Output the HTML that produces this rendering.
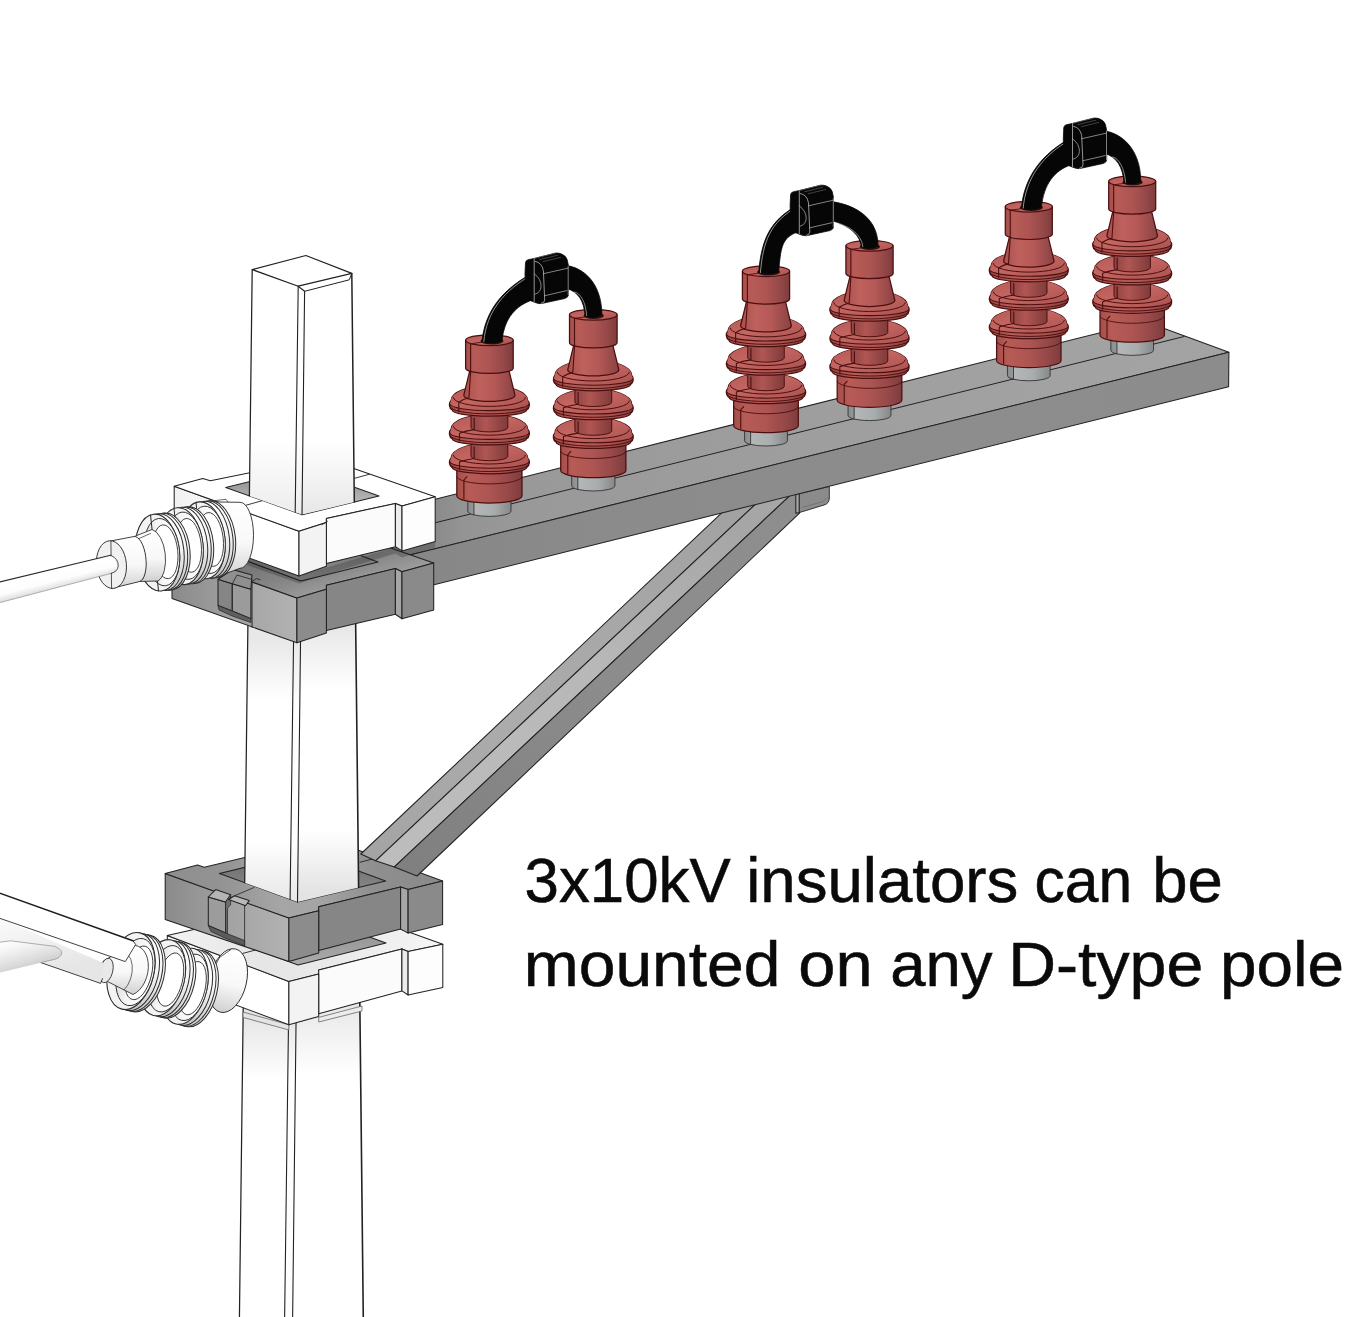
<!DOCTYPE html>
<html><head><meta charset="utf-8"><title>3x10kV insulators</title>
<style>
html,body{margin:0;padding:0;background:#fff;}
body{width:1370px;height:1317px;overflow:hidden;}
svg{display:block;}
text{font-family:"Liberation Sans",sans-serif;font-size:63.5px;fill:#0a0a0a;stroke:#0a0a0a;stroke-width:0.55px;}
</style></head><body>
<svg width="1370" height="1317" viewBox="0 0 1370 1317">
<defs>
<linearGradient id="redB" gradientUnits="objectBoundingBox" x1="0" y1="0" x2="1" y2="0"><stop offset="0" stop-color="#a54e4a"/><stop offset="0.18" stop-color="#b75b56"/><stop offset="0.5" stop-color="#ad5553"/><stop offset="0.8" stop-color="#954848"/><stop offset="1" stop-color="#7e3c3c"/></linearGradient>
<linearGradient id="redCone" gradientUnits="objectBoundingBox" x1="0" y1="0" x2="1" y2="0"><stop offset="0" stop-color="#a8504c"/><stop offset="0.3" stop-color="#bf615d"/><stop offset="0.6" stop-color="#b55957"/><stop offset="1" stop-color="#884242"/></linearGradient>
<linearGradient id="redC" gradientUnits="objectBoundingBox" x1="0" y1="0" x2="1" y2="0"><stop offset="0" stop-color="#8e4341"/><stop offset="0.4" stop-color="#b05653"/><stop offset="1" stop-color="#7f3b3a"/></linearGradient>
<linearGradient id="redRim" gradientUnits="objectBoundingBox" x1="0" y1="0" x2="1" y2="0"><stop offset="0" stop-color="#9c4744"/><stop offset="0.3" stop-color="#b95c58"/><stop offset="0.7" stop-color="#aa5250"/><stop offset="1" stop-color="#823e3d"/></linearGradient>
<linearGradient id="redTop" gradientUnits="objectBoundingBox" x1="0" y1="0" x2="1" y2="1"><stop offset="0" stop-color="#b55955"/><stop offset="0.45" stop-color="#c46662"/><stop offset="1" stop-color="#a9514f"/></linearGradient>
<linearGradient id="stubG" gradientUnits="objectBoundingBox" x1="0" y1="0" x2="1" y2="0"><stop offset="0" stop-color="#8a8d8d"/><stop offset="0.13" stop-color="#959898"/><stop offset="0.16" stop-color="#b4b7b7"/><stop offset="0.6" stop-color="#aaadad"/><stop offset="1" stop-color="#868989"/></linearGradient>
<linearGradient id="pL" gradientUnits="objectBoundingBox" x1="0" y1="0" x2="1" y2="0"><stop offset="0" stop-color="#ffffff"/><stop offset="1" stop-color="#ffffff"/></linearGradient>
<linearGradient id="pR" gradientUnits="objectBoundingBox" x1="0" y1="0" x2="1" y2="0"><stop offset="0" stop-color="#ffffff"/><stop offset="1" stop-color="#ffffff"/></linearGradient>
<linearGradient id="wFL" gradientUnits="objectBoundingBox" x1="0" y1="0" x2="1" y2="0"><stop offset="0" stop-color="#f1f1f1"/><stop offset="0.6" stop-color="#ffffff"/><stop offset="1" stop-color="#ffffff"/></linearGradient>
<linearGradient id="gFL" gradientUnits="objectBoundingBox" x1="0" y1="0" x2="1" y2="0"><stop offset="0" stop-color="#8a8a8a"/><stop offset="0.5" stop-color="#a2a2a2"/><stop offset="1" stop-color="#b2b2b2"/></linearGradient>
<linearGradient id="gTop" gradientUnits="objectBoundingBox" x1="0" y1="0" x2="1" y2="0"><stop offset="0" stop-color="#8e8e8e"/><stop offset="0.2" stop-color="#939393"/><stop offset="0.42" stop-color="#a6a6a6"/><stop offset="0.56" stop-color="#a4a4a4"/><stop offset="0.75" stop-color="#8f8f8f"/><stop offset="1" stop-color="#8a8a8a"/></linearGradient>
<linearGradient id="lwTop" gradientUnits="objectBoundingBox" x1="0" y1="0" x2="1" y2="0"><stop offset="0" stop-color="#f2f2f2"/><stop offset="0.35" stop-color="#e6e6e6"/><stop offset="0.6" stop-color="#e9e9e9"/><stop offset="1" stop-color="#f6f6f6"/></linearGradient>
<linearGradient id="wRim" gradientUnits="objectBoundingBox" x1="0" y1="0" x2="0" y2="1"><stop offset="0" stop-color="#ffffff"/><stop offset="0.45" stop-color="#f6f6f6"/><stop offset="0.75" stop-color="#dcdcdc"/><stop offset="1" stop-color="#c2c2c2"/></linearGradient>
<linearGradient id="wBody" gradientUnits="objectBoundingBox" x1="0" y1="0" x2="0" y2="1"><stop offset="0" stop-color="#ffffff"/><stop offset="0.55" stop-color="#f8f8f8"/><stop offset="0.85" stop-color="#dedede"/><stop offset="1" stop-color="#cfcfcf"/></linearGradient>
<linearGradient id="wDish" gradientUnits="objectBoundingBox" x1="0" y1="0" x2="1" y2="0"><stop offset="0" stop-color="#dadada"/><stop offset="0.45" stop-color="#f6f6f6"/><stop offset="1" stop-color="#ffffff"/></linearGradient>
<linearGradient id="sh1" gradientUnits="userSpaceOnUse" x1="0" y1="1015" x2="0" y2="1080"><stop offset="0" stop-color="#000" stop-opacity="0.1"/><stop offset="1" stop-color="#000" stop-opacity="0"/></linearGradient>
<linearGradient id="sh2" gradientUnits="userSpaceOnUse" x1="0" y1="1005" x2="0" y2="1075"><stop offset="0" stop-color="#000" stop-opacity="0.09"/><stop offset="1" stop-color="#000" stop-opacity="0"/></linearGradient>
<linearGradient id="hole17" gradientUnits="userSpaceOnUse" x1="0" y1="921" x2="0" y2="961"><stop offset="0" stop-color="#8c8c8c"/><stop offset="1" stop-color="#a9a9a9"/></linearGradient>
<linearGradient id="hole18" gradientUnits="userSpaceOnUse" x1="0" y1="858.3" x2="0" y2="898"><stop offset="0" stop-color="#6c6c6c"/><stop offset="1" stop-color="#8e8e8e"/></linearGradient>
<linearGradient id="sh3" gradientUnits="userSpaceOnUse" x1="0" y1="640" x2="0" y2="700"><stop offset="0" stop-color="#000" stop-opacity="0.09"/><stop offset="1" stop-color="#000" stop-opacity="0"/></linearGradient>
<linearGradient id="sh4" gradientUnits="userSpaceOnUse" x1="0" y1="628" x2="0" y2="690"><stop offset="0" stop-color="#000" stop-opacity="0.09"/><stop offset="1" stop-color="#000" stop-opacity="0"/></linearGradient>
<linearGradient id="sh5" gradientUnits="userSpaceOnUse" x1="0" y1="840" x2="0" y2="900"><stop offset="0" stop-color="#000" stop-opacity="0"/><stop offset="1" stop-color="#000" stop-opacity="0.09"/></linearGradient>
<linearGradient id="sh6" gradientUnits="userSpaceOnUse" x1="0" y1="830" x2="0" y2="892"><stop offset="0" stop-color="#000" stop-opacity="0"/><stop offset="1" stop-color="#000" stop-opacity="0.11"/></linearGradient>
<linearGradient id="brL" gradientUnits="userSpaceOnUse" x1="365" y1="850" x2="720" y2="515"><stop offset="0" stop-color="#a4a4a4"/><stop offset="0.4" stop-color="#acacac"/><stop offset="1" stop-color="#a2a2a2"/></linearGradient>
<linearGradient id="brR" gradientUnits="userSpaceOnUse" x1="365" y1="850" x2="720" y2="515"><stop offset="0" stop-color="#bdbdbd"/><stop offset="0.6" stop-color="#b8b8b8"/><stop offset="1" stop-color="#a6a6a6"/></linearGradient>
<linearGradient id="brF" gradientUnits="userSpaceOnUse" x1="420" y1="870" x2="800" y2="513"><stop offset="0" stop-color="#808080"/><stop offset="0.5" stop-color="#8c8c8c"/><stop offset="1" stop-color="#8e8e8e"/></linearGradient>
<linearGradient id="beamTop" gradientUnits="userSpaceOnUse" x1="345" y1="0" x2="1230" y2="0"><stop offset="0" stop-color="#858585"/><stop offset="0.1" stop-color="#8a8a8a"/><stop offset="0.13" stop-color="#939393"/><stop offset="0.2" stop-color="#999999"/><stop offset="0.45" stop-color="#9d9d9d"/><stop offset="0.8" stop-color="#a2a2a2"/><stop offset="1" stop-color="#a3a3a3"/></linearGradient>
<linearGradient id="beamFront" gradientUnits="userSpaceOnUse" x1="345" y1="0" x2="1230" y2="0"><stop offset="0" stop-color="#838383"/><stop offset="0.1" stop-color="#878787"/><stop offset="0.3" stop-color="#8b8b8b"/><stop offset="0.7" stop-color="#8d8d8d"/><stop offset="1" stop-color="#8c8c8c"/></linearGradient>
<linearGradient id="ugTop" gradientUnits="userSpaceOnUse" x1="300" y1="556" x2="312" y2="600"><stop offset="0" stop-color="#787878"/><stop offset="0.5" stop-color="#888888"/><stop offset="1" stop-color="#a0a0a0"/></linearGradient>
<linearGradient id="hole29" gradientUnits="userSpaceOnUse" x1="0" y1="540" x2="0" y2="577"><stop offset="0" stop-color="#6c6c6c"/><stop offset="1" stop-color="#8e8e8e"/></linearGradient>
<linearGradient id="hole30" gradientUnits="userSpaceOnUse" x1="0" y1="474.79999999999995" x2="0" y2="510.70000000000005"><stop offset="0" stop-color="#8b8b8b"/><stop offset="1" stop-color="#c6c6c6"/></linearGradient>
<linearGradient id="sh7" gradientUnits="userSpaceOnUse" x1="0" y1="440" x2="0" y2="512"><stop offset="0" stop-color="#000" stop-opacity="0"/><stop offset="1" stop-color="#000" stop-opacity="0.07"/></linearGradient>
<linearGradient id="sh8" gradientUnits="userSpaceOnUse" x1="0" y1="440" x2="0" y2="512"><stop offset="0" stop-color="#000" stop-opacity="0"/><stop offset="1" stop-color="#000" stop-opacity="0.09"/></linearGradient>
<linearGradient id="wire1" gradientUnits="userSpaceOnUse" x1="0" y1="583" x2="5" y2="603"><stop offset="0" stop-color="#ffffff"/><stop offset="0.55" stop-color="#fdfdfd"/><stop offset="0.85" stop-color="#e3e3e3"/><stop offset="1" stop-color="#d0d0d0"/></linearGradient>
<linearGradient id="wire4" gradientUnits="userSpaceOnUse" x1="0" y1="920" x2="14" y2="980"><stop offset="0" stop-color="#fafafa"/><stop offset="0.5" stop-color="#f0f0f0"/><stop offset="1" stop-color="#e6e6e6"/></linearGradient>
<linearGradient id="wire2" gradientUnits="userSpaceOnUse" x1="0" y1="940" x2="10" y2="975"><stop offset="0" stop-color="#ffffff"/><stop offset="0.3" stop-color="#f6f6f6"/><stop offset="0.75" stop-color="#dcdcdc"/><stop offset="1" stop-color="#cacaca"/></linearGradient>
</defs>
<rect width="1370" height="1317" fill="#ffffff"/>
<polygon points="243.3,1000.0 288.8,1000.0 284.6,1320.0 239.4,1320.0" fill="url(#pL)" stroke="none" stroke-width="0" stroke-linejoin="round" />
<polygon points="288.8,1000.0 296.3,1000.0 292.6,1320.0 284.6,1320.0" fill="url(#pL)" stroke="none" stroke-width="0" stroke-linejoin="round" />
<polygon points="296.3,1000.0 359.8,1000.0 363.3,1320.0 292.6,1320.0" fill="url(#pR)" stroke="none" stroke-width="0" stroke-linejoin="round" />
<polyline points="243.3,1000.0 239.4,1320.0" fill="none" stroke="#222222" stroke-width="1.25" stroke-linecap="round" stroke-linejoin="round" />
<polyline points="288.8,1000.0 284.6,1320.0" fill="none" stroke="#222222" stroke-width="1.1" stroke-linecap="round" stroke-linejoin="round" />
<polyline points="296.3,1000.0 292.6,1320.0" fill="none" stroke="#222222" stroke-width="1.1" stroke-linecap="round" stroke-linejoin="round" />
<polyline points="359.8,1000.0 363.3,1320.0" fill="none" stroke="#222222" stroke-width="1.6" stroke-linecap="round" stroke-linejoin="round" />
<polygon points="243.3,1000.0 288.8,1000.0 284.6,1320.0 239.4,1320.0" fill="url(#sh1)"/>
<polygon points="288.8,1000.0 296.3,1000.0 292.6,1320.0 284.6,1320.0" fill="url(#sh1)"/>
<polygon points="296.3,1000.0 359.8,1000.0 363.3,1320.0 292.6,1320.0" fill="url(#sh2)"/>
<polygon points="243.0,1012.0 288.9,1024.8 288.9,1030.0 243.0,1017.4" fill="#e4e4e4" stroke="#555" stroke-width="0.7" stroke-linejoin="round" />
<polygon points="318.7,1017.4 362.0,1006.0 362.0,1011.0 318.7,1022.0" fill="#ececec" stroke="#555" stroke-width="0.7" stroke-linejoin="round" />
<polygon points="167.3,935.5 288.9,981.4 288.9,1024.8 167.3,979.5" fill="url(#wFL)" stroke="#222222" stroke-width="1.05" stroke-linejoin="round" />
<polygon points="167.3,935.5 196.0,929.0 203.0,930.5 325.0,902.0 442.8,944.2 408.1,951.6 401.9,949.0 318.7,970.0 318.7,974.0 288.9,981.4" fill="url(#lwTop)" stroke="#222222" stroke-width="1.05" stroke-linejoin="round" />
<polygon points="221.0,937.0 309.0,915.0 386.0,943.0 298.0,965.0" fill="url(#hole17)" stroke="#222222" stroke-width="1.05" stroke-linejoin="round" />
<polygon points="318.7,970.0 401.9,949.0 401.9,990.9 318.7,1013.7" fill="#fbfbfb" stroke="#222222" stroke-width="1.05" stroke-linejoin="round" />
<polygon points="288.9,981.4 318.7,974.0 318.7,1016.4 288.9,1024.8" fill="#f3f3f3" stroke="#222222" stroke-width="1.05" stroke-linejoin="round" />
<polygon points="401.9,949.0 408.1,951.6 408.1,995.0 401.9,990.9" fill="#ececec" stroke="#222222" stroke-width="1.05" stroke-linejoin="round" />
<polygon points="408.1,951.6 442.8,944.2 442.8,987.6 408.1,995.0" fill="#fdfdfd" stroke="#222222" stroke-width="1.05" stroke-linejoin="round" />
<polyline points="242.5,953.5 263.0,948.0" fill="none" stroke="#222222" stroke-width="0.9" stroke-linecap="round" stroke-linejoin="round" />
<polygon points="165.2,873.6 288.9,918.1 288.9,961.5 165.2,919.6" fill="url(#gFL)" stroke="#222222" stroke-width="1.05" stroke-linejoin="round" />
<polygon points="165.2,873.6 197.5,864.9 204.3,867.2 325.0,838.0 442.6,880.9 408.1,889.6 400.6,887.1 318.7,906.7 318.7,910.7 288.9,918.1" fill="url(#gTop)" stroke="#222222" stroke-width="1.05" stroke-linejoin="round" />
<polygon points="219.4,873.4 307.5,852.3 385.7,880.9 297.6,902.0" fill="url(#hole18)" stroke="#222222" stroke-width="1.05" stroke-linejoin="round" />
<polygon points="318.7,906.7 400.6,887.1 400.6,929.1 318.7,950.4" fill="#868686" stroke="#222222" stroke-width="1.05" stroke-linejoin="round" />
<polygon points="288.9,918.1 318.7,910.7 318.7,953.1 288.9,961.5" fill="#8c8c8c" stroke="#222222" stroke-width="1.05" stroke-linejoin="round" />
<polygon points="400.6,887.1 408.1,889.6 408.1,933.1 400.6,929.1" fill="#a6a6a6" stroke="#222222" stroke-width="1.05" stroke-linejoin="round" />
<polygon points="408.1,889.6 442.6,880.9 442.6,924.4 408.1,933.1" fill="#8a8a8a" stroke="#222222" stroke-width="1.05" stroke-linejoin="round" />
<polygon points="208.3,897.0 225.6,902.0 225.6,933.0 208.3,925.6" fill="#9c9c9c" stroke="#222222" stroke-width="1.05" stroke-linejoin="round" />
<polygon points="208.3,897.0 215.7,889.6 230.6,894.8 225.6,902.0" fill="#b5b5b5" stroke="#222222" stroke-width="1.05" stroke-linejoin="round" />
<polygon points="225.6,902.0 230.6,894.8 230.6,905.0 227.5,908.0 227.5,934.0 225.6,933.0" fill="#6e6e6e" stroke="#222222" stroke-width="0.7" stroke-linejoin="round" />
<polygon points="228.6,899.5 234.5,895.8 249.2,900.6 245.5,905.7 244.3,905.2" fill="#b9b9b9" stroke="#222222" stroke-width="1.05" stroke-linejoin="round" />
<polyline points="234.5,895.8 254.0,887.5" fill="none" stroke="#222222" stroke-width="0.8" stroke-linecap="round" stroke-linejoin="round" />
<polyline points="244.6,905.5 244.6,945.8" fill="none" stroke="#222222" stroke-width="0.8" stroke-linecap="round" stroke-linejoin="round" />
<polygon points="208.3,925.6 225.6,933.0 244.6,940.5 244.6,945.8 226.0,938.5 211.0,931.5" fill="#5c5c5c" stroke="#222222" stroke-width="0.7" stroke-linejoin="round" />
<polyline points="360.0,862.3 380.5,856.8" fill="none" stroke="#222222" stroke-width="0.9" stroke-linecap="round" stroke-linejoin="round" />
<polygon points="248.2,600.0 294.1,600.0 290.1,899.3 244.7,882.7" fill="url(#pL)" stroke="none" stroke-width="0" stroke-linejoin="round" />
<polygon points="294.1,600.0 301.0,600.0 297.5,902.0 290.1,899.3" fill="url(#pL)" stroke="none" stroke-width="0" stroke-linejoin="round" />
<polygon points="301.0,600.0 355.4,600.0 358.6,887.4 297.5,902.0" fill="url(#pR)" stroke="none" stroke-width="0" stroke-linejoin="round" />
<polyline points="248.2,600.0 244.7,882.7" fill="none" stroke="#222222" stroke-width="1.25" stroke-linecap="round" stroke-linejoin="round" />
<polyline points="294.1,600.0 290.1,899.3" fill="none" stroke="#222222" stroke-width="1.1" stroke-linecap="round" stroke-linejoin="round" />
<polyline points="301.0,600.0 297.5,902.0" fill="none" stroke="#222222" stroke-width="1.1" stroke-linecap="round" stroke-linejoin="round" />
<polyline points="355.4,600.0 358.6,887.4" fill="none" stroke="#222222" stroke-width="1.6" stroke-linecap="round" stroke-linejoin="round" />
<polygon points="248.2,600.0 294.1,600.0 290.1,899.3 244.7,882.7" fill="url(#sh3)"/>
<polygon points="294.1,600.0 301.0,600.0 297.5,902.0 290.1,899.3" fill="url(#sh3)"/>
<polygon points="301.0,600.0 355.4,600.0 358.6,887.4 297.5,902.0" fill="url(#sh4)"/>
<polygon points="248.2,600.0 294.1,600.0 290.1,899.3 244.7,882.7" fill="url(#sh5)"/>
<polygon points="294.1,600.0 301.0,600.0 297.5,902.0 290.1,899.3" fill="url(#sh5)"/>
<polygon points="301.0,600.0 355.4,600.0 358.6,887.4 297.5,902.0" fill="url(#sh6)"/>
<polygon points="360.8,854.0 740.0,495.6 773.4,487.4 375.6,860.8" fill="url(#brL)" stroke="#222222" stroke-width="1.05" stroke-linejoin="round" />
<polygon points="375.6,860.8 773.4,487.4 810.4,476.4 394.4,866.9" fill="url(#brR)" stroke="#222222" stroke-width="1.05" stroke-linejoin="round" />
<polygon points="394.4,866.9 810.4,476.4 799.5,513.2 417.0,876.0" fill="url(#brF)" stroke="#222222" stroke-width="1.05" stroke-linejoin="round" />
<polygon points="795.8,494.6 799.5,493.6 799.5,512.5 795.8,513.2" fill="#a8a8a8" stroke="#222222" stroke-width="1.05" stroke-linejoin="round" />
<path d="M799.5,493.6 L829.3,486.5 L829.3,498 Q829.3,503.5 824,505 L799.5,512.5 Z" fill="#8b8b8b" stroke="#222222" stroke-width="0.9" stroke-linejoin="round" stroke-linecap="round" />
<polyline points="802.0,507.5 823.0,501.5 826.5,498.0" fill="none" stroke="#6a6a6a" stroke-width="0.7" stroke-linecap="round" stroke-linejoin="round" />
<polygon points="345.0,521.8 1145.2,321.4 1228.9,352.3 345.0,571.0" fill="url(#beamTop)" stroke="#222222" stroke-width="1.05" stroke-linejoin="round" />
<polygon points="345.0,571.0 1228.9,352.3 1228.6,386.7 345.0,606.9" fill="url(#beamFront)" stroke="#222222" stroke-width="1.05" stroke-linejoin="round" />
<polyline points="345.0,545.2 1184.2,336.5" fill="none" stroke="#222222" stroke-width="1.0" stroke-linecap="round" stroke-linejoin="round" />
<polygon points="172.0,553.5 296.9,597.9 296.9,642.8 172.0,598.5" fill="url(#gFL)" stroke="#222222" stroke-width="1.05" stroke-linejoin="round" />
<polygon points="172.0,553.5 201.0,546.0 209.0,548.0 322.0,524.0 433.7,562.9 402.0,571.7 395.4,568.6 326.4,585.2 326.4,589.2 296.9,597.9" fill="url(#ugTop)" stroke="#222222" stroke-width="1.05" stroke-linejoin="round" />
<polygon points="225.0,553.0 302.0,534.0 378.0,562.0 301.0,581.0" fill="url(#hole29)" stroke="#222222" stroke-width="1.05" stroke-linejoin="round" />
<polygon points="326.4,585.2 395.4,568.6 395.4,614.2 326.4,630.4" fill="#868686" stroke="#222222" stroke-width="1.05" stroke-linejoin="round" />
<polygon points="296.9,597.9 326.4,589.2 326.4,633.1 296.9,642.8" fill="#8c8c8c" stroke="#222222" stroke-width="1.05" stroke-linejoin="round" />
<polygon points="395.4,568.6 402.0,571.7 402.0,618.8 395.4,614.2" fill="#a6a6a6" stroke="#222222" stroke-width="1.05" stroke-linejoin="round" />
<polygon points="402.0,571.7 433.7,562.9 433.7,610.0 402.0,618.8" fill="#8a8a8a" stroke="#222222" stroke-width="1.05" stroke-linejoin="round" />
<polygon points="218.0,579.3 232.3,583.7 232.3,611.1 218.0,605.6" fill="#858585" stroke="#222222" stroke-width="1.05" stroke-linejoin="round" />
<polygon points="232.3,583.7 250.9,589.2 250.9,618.7 232.3,611.1" fill="#9b9b9b" stroke="#222222" stroke-width="1.05" stroke-linejoin="round" />
<polygon points="218.0,579.3 232.3,569.5 252.0,575.0 250.9,589.2 232.3,583.7" fill="#8f8f8f" stroke="#222222" stroke-width="1.05" stroke-linejoin="round" />
<polyline points="232.3,583.7 237.0,575.0 252.0,579.5" fill="none" stroke="#222222" stroke-width="0.8" stroke-linecap="round" stroke-linejoin="round" />
<polygon points="218.0,605.6 232.3,611.1 250.9,618.7 250.9,622.5 232.3,616.0 219.0,610.0" fill="#5f5f5f" stroke="#222222" stroke-width="0.7" stroke-linejoin="round" />
<polyline points="252.0,581.5 252.0,627.3" fill="none" stroke="#222222" stroke-width="1.0" stroke-linecap="round" stroke-linejoin="round" />
<polyline points="252.0,581.5 256.5,578.6 260.0,579.6" fill="none" stroke="#222222" stroke-width="0.8" stroke-linecap="round" stroke-linejoin="round" />
<polygon points="236.0,553.5 299.0,576.0 326.4,567.5 395.4,547.3 402.0,550.9 435.2,541.6 435.2,547.5 402.0,557.5 395.4,553.5 326.4,574.5 299.0,583.5 236.0,561.0" fill="#000" fill-opacity="0.2"/>
<polygon points="174.2,486.3 299.0,531.2 299.0,576.0 174.2,530.9" fill="url(#wFL)" stroke="#222222" stroke-width="1.05" stroke-linejoin="round" />
<polygon points="174.2,486.3 202.7,478.6 210.4,480.8 322.7,457.8 435.2,496.7 402.0,506.0 395.4,503.4 326.4,518.4 326.4,522.4 299.0,531.2" fill="#ffffff" stroke="#222222" stroke-width="1.05" stroke-linejoin="round" />
<polygon points="225.7,487.4 302.4,468.8 379.0,496.1 302.3,514.7" fill="url(#hole30)" stroke="#222222" stroke-width="1.05" stroke-linejoin="round" />
<polygon points="326.4,518.4 395.4,503.4 395.4,546.8 326.4,563.5" fill="#fbfbfb" stroke="#222222" stroke-width="1.05" stroke-linejoin="round" />
<polygon points="299.0,531.2 326.4,522.4 326.4,566.2 299.0,576.0" fill="#f3f3f3" stroke="#222222" stroke-width="1.05" stroke-linejoin="round" />
<polygon points="395.4,503.4 402.0,506.0 402.0,550.9 395.4,546.8" fill="#ececec" stroke="#222222" stroke-width="1.05" stroke-linejoin="round" />
<polygon points="402.0,506.0 435.2,496.7 435.2,541.6 402.0,550.9" fill="#fdfdfd" stroke="#222222" stroke-width="1.05" stroke-linejoin="round" />
<polyline points="243.2,506.0 262.9,500.5" fill="none" stroke="#222222" stroke-width="0.9" stroke-linecap="round" stroke-linejoin="round" />
<polyline points="353.8,478.5 369.2,474.3" fill="none" stroke="#222222" stroke-width="0.9" stroke-linecap="round" stroke-linejoin="round" />
<polyline points="322.0,524.6 327.5,521.3" fill="none" stroke="#222222" stroke-width="0.8" stroke-linecap="round" stroke-linejoin="round" />
<polygon points="252.2,269.6 298.2,286.2 295.2,512.2 249.4,495.9" fill="#ffffff" stroke="none" stroke-width="0" stroke-linejoin="round" />
<polygon points="298.2,286.2 304.6,291.3 302.0,514.6 295.2,512.2" fill="#ffffff" stroke="none" stroke-width="0" stroke-linejoin="round" />
<polygon points="304.6,291.3 349.3,279.8 351.8,273.4 354.3,502.1 302.0,514.6" fill="#ffffff" stroke="none" stroke-width="0" stroke-linejoin="round" />
<polygon points="252.2,269.6 298.2,286.2 295.2,512.2 249.4,495.9" fill="url(#sh7)"/>
<polygon points="298.2,286.2 304.6,291.3 302.0,514.6 295.2,512.2" fill="url(#sh7)"/>
<polygon points="304.6,291.3 349.3,279.8 351.8,273.4 354.3,502.1 302.0,514.6" fill="url(#sh8)"/>
<polygon points="252.2,269.6 305.9,255.5 351.8,273.4 298.2,286.2" fill="#ffffff" stroke="#222222" stroke-width="1.2" stroke-linejoin="round" />
<polyline points="252.2,269.6 249.4,495.9" fill="none" stroke="#222222" stroke-width="1.25" stroke-linecap="round" stroke-linejoin="round" />
<polyline points="298.2,286.2 295.2,512.2" fill="none" stroke="#222222" stroke-width="1.1" stroke-linecap="round" stroke-linejoin="round" />
<polyline points="298.2,286.2 304.6,291.3 302.0,514.6" fill="none" stroke="#222222" stroke-width="1.1" stroke-linecap="round" stroke-linejoin="round" />
<polyline points="304.6,291.3 349.3,279.8 351.8,273.4" fill="none" stroke="#222222" stroke-width="1.0" stroke-linecap="round" stroke-linejoin="round" />
<polyline points="351.8,273.4 354.3,502.1" fill="none" stroke="#222222" stroke-width="1.5" stroke-linecap="round" stroke-linejoin="round" />
<path d="M205,501.8 L240,502.3 A13.5,33 0 0 1 240,568.3 L212,578.5 Z" fill="url(#wBody)" stroke="#2b2b2b" stroke-width="0.9" stroke-linejoin="round" stroke-linecap="round" />
<polyline points="228.0,502.1 226.0,499.3 215.0,500.6" fill="none" stroke="#2b2b2b" stroke-width="0.7" stroke-linecap="round" stroke-linejoin="round" />
<g transform="rotate(-6.0 203.0 540.3)">
<ellipse cx="213.5" cy="540.3" rx="22.0" ry="38.6" fill="url(#wRim)" stroke="#2b2b2b" stroke-width="1.0" />
<ellipse cx="211.0" cy="540.3" rx="22.0" ry="38.6" fill="url(#wRim)" stroke="#2b2b2b" stroke-width="1.0" />
<ellipse cx="207.5" cy="540.3" rx="22.0" ry="38.6" fill="url(#wRim)" stroke="#2b2b2b" stroke-width="1.0" />
<ellipse cx="203.0" cy="540.3" rx="22.0" ry="38.6" fill="#f3f3f3" stroke="#2b2b2b" stroke-width="1.1" />
<ellipse cx="207.5" cy="540.3" rx="17.6" ry="33.8" fill="url(#wDish)" stroke="#2b2b2b" stroke-width="0.9" />
<ellipse cx="211.0" cy="540.3" rx="12.3" ry="27.0" fill="#ffffff" stroke="#2b2b2b" stroke-width="0.85" />
<polyline points="200.0,502.1 200.0,578.5" fill="none" stroke="#2b2b2b" stroke-width="1.0" stroke-linecap="round" stroke-linejoin="round" />
</g>
<g transform="rotate(-6.0 181.0 546.2)">
<ellipse cx="191.5" cy="546.2" rx="22.0" ry="38.6" fill="url(#wRim)" stroke="#2b2b2b" stroke-width="1.0" />
<ellipse cx="189.0" cy="546.2" rx="22.0" ry="38.6" fill="url(#wRim)" stroke="#2b2b2b" stroke-width="1.0" />
<ellipse cx="185.5" cy="546.2" rx="22.0" ry="38.6" fill="url(#wRim)" stroke="#2b2b2b" stroke-width="1.0" />
<ellipse cx="181.0" cy="546.2" rx="22.0" ry="38.6" fill="#f3f3f3" stroke="#2b2b2b" stroke-width="1.1" />
<ellipse cx="185.5" cy="546.2" rx="17.6" ry="33.8" fill="url(#wDish)" stroke="#2b2b2b" stroke-width="0.9" />
<ellipse cx="189.0" cy="546.2" rx="12.3" ry="27.0" fill="#ffffff" stroke="#2b2b2b" stroke-width="0.85" />
<polyline points="178.0,508.0 178.0,584.4" fill="none" stroke="#2b2b2b" stroke-width="1.0" stroke-linecap="round" stroke-linejoin="round" />
</g>
<g transform="rotate(-6.0 157.5 552.6)">
<ellipse cx="168.0" cy="552.6" rx="22.0" ry="38.6" fill="url(#wRim)" stroke="#2b2b2b" stroke-width="1.0" />
<ellipse cx="165.5" cy="552.6" rx="22.0" ry="38.6" fill="url(#wRim)" stroke="#2b2b2b" stroke-width="1.0" />
<ellipse cx="162.0" cy="552.6" rx="22.0" ry="38.6" fill="url(#wRim)" stroke="#2b2b2b" stroke-width="1.0" />
<ellipse cx="157.5" cy="552.6" rx="22.0" ry="38.6" fill="#f3f3f3" stroke="#2b2b2b" stroke-width="1.1" />
<ellipse cx="162.0" cy="552.6" rx="17.6" ry="33.8" fill="url(#wDish)" stroke="#2b2b2b" stroke-width="0.9" />
<ellipse cx="165.5" cy="552.6" rx="12.3" ry="27.0" fill="#ffffff" stroke="#2b2b2b" stroke-width="0.85" />
<polyline points="154.5,514.4 154.5,590.8" fill="none" stroke="#2b2b2b" stroke-width="1.0" stroke-linecap="round" stroke-linejoin="round" />
</g>
<path d="M133.5,536.8 L152,529.5 A13,26.5 -6 0 1 158,581 L139.5,581.5 A9,22.5 -6 0 0 133.5,536.8 Z" fill="url(#wBody)" stroke="#2b2b2b" stroke-width="0.85" stroke-linejoin="round" stroke-linecap="round" />
<polyline points="134.5,540.5 150.5,533.5" fill="none" stroke="#2b2b2b" stroke-width="0.7" stroke-linecap="round" stroke-linejoin="round" />
<path d="M110.7,541.0 L133.5,536.6 A9.5,22.6 -6 0 1 139.3,581.6 L111.6,588.4 Z" fill="url(#wBody)" stroke="#2b2b2b" stroke-width="0.9" stroke-linejoin="round" stroke-linecap="round" />
<g transform="rotate(-5 111.4 564.6)">
<ellipse cx="111.4" cy="564.6" rx="15.0" ry="23.9" fill="#f1f1f1" stroke="#2b2b2b" stroke-width="0.9" />
</g>
<polyline points="110.9,541.0 111.6,588.4" fill="none" stroke="#2b2b2b" stroke-width="0.8" stroke-linecap="round" stroke-linejoin="round" />
<path d="M-2,582.4 L110.7,555.2 Q119.5,563 117,571.8 L-2,603.1 Z" fill="url(#wire1)" stroke="none" stroke-width="0" stroke-linejoin="round" stroke-linecap="round" />
<polyline points="-2.0,582.4 110.7,555.2" fill="none" stroke="#2b2b2b" stroke-width="1.1" stroke-linecap="round" stroke-linejoin="round" />
<polyline points="-2.0,603.1 111.0,573.4" fill="none" stroke="#7d7d7d" stroke-width="0.6" stroke-linecap="round" stroke-linejoin="round" />
<path d="M110.7,555.2 Q118.8,559 118.2,566.2 Q117.8,571.5 111,573.4" fill="none" stroke="#2b2b2b" stroke-width="0.8" stroke-linejoin="round" stroke-linecap="round" />
<path d="M213,965 L224,957 L226,1004 L214,997 Z" fill="url(#wBody)" stroke="#2b2b2b" stroke-width="0.8" stroke-linejoin="round" stroke-linecap="round" />
<g transform="rotate(13.5 228 980.6)">
<ellipse cx="228.0" cy="980.6" rx="18.5" ry="32.5" fill="url(#wBody)" stroke="#2b2b2b" stroke-width="0.9" />
</g>
<polyline points="219.5,957.5 231.0,949.5" fill="none" stroke="#2b2b2b" stroke-width="0.8" stroke-linecap="round" stroke-linejoin="round" />
<polyline points="219.5,957.5 215.5,965.0" fill="none" stroke="#2b2b2b" stroke-width="0.8" stroke-linecap="round" stroke-linejoin="round" />
<g transform="rotate(13.5 185.0 986.3)">
<ellipse cx="195.5" cy="986.3" rx="22.0" ry="38.8" fill="url(#wRim)" stroke="#2b2b2b" stroke-width="1.0" />
<ellipse cx="193.0" cy="986.3" rx="22.0" ry="38.8" fill="url(#wRim)" stroke="#2b2b2b" stroke-width="1.0" />
<ellipse cx="189.5" cy="986.3" rx="22.0" ry="38.8" fill="url(#wRim)" stroke="#2b2b2b" stroke-width="1.0" />
<ellipse cx="185.0" cy="986.3" rx="22.0" ry="38.8" fill="#f3f3f3" stroke="#2b2b2b" stroke-width="1.1" />
<ellipse cx="189.5" cy="986.3" rx="17.6" ry="33.9" fill="url(#wDish)" stroke="#2b2b2b" stroke-width="0.9" />
<ellipse cx="193.0" cy="986.3" rx="12.3" ry="27.2" fill="#ffffff" stroke="#2b2b2b" stroke-width="0.85" />
</g>
<g transform="rotate(13.5 162.4 977.7)">
<ellipse cx="172.9" cy="977.7" rx="22.0" ry="38.8" fill="url(#wRim)" stroke="#2b2b2b" stroke-width="1.0" />
<ellipse cx="170.4" cy="977.7" rx="22.0" ry="38.8" fill="url(#wRim)" stroke="#2b2b2b" stroke-width="1.0" />
<ellipse cx="166.9" cy="977.7" rx="22.0" ry="38.8" fill="url(#wRim)" stroke="#2b2b2b" stroke-width="1.0" />
<ellipse cx="162.4" cy="977.7" rx="22.0" ry="38.8" fill="#f3f3f3" stroke="#2b2b2b" stroke-width="1.1" />
<ellipse cx="166.9" cy="977.7" rx="17.6" ry="33.9" fill="url(#wDish)" stroke="#2b2b2b" stroke-width="0.9" />
<ellipse cx="170.4" cy="977.7" rx="12.3" ry="27.2" fill="#ffffff" stroke="#2b2b2b" stroke-width="0.85" />
</g>
<g transform="rotate(13.5 131.0 971.0)">
<ellipse cx="141.5" cy="971.0" rx="23.0" ry="39.2" fill="url(#wRim)" stroke="#2b2b2b" stroke-width="1.0" />
<ellipse cx="139.0" cy="971.0" rx="23.0" ry="39.2" fill="url(#wRim)" stroke="#2b2b2b" stroke-width="1.0" />
<ellipse cx="135.5" cy="971.0" rx="23.0" ry="39.2" fill="url(#wRim)" stroke="#2b2b2b" stroke-width="1.0" />
<ellipse cx="131.0" cy="971.0" rx="23.0" ry="39.2" fill="#f3f3f3" stroke="#2b2b2b" stroke-width="1.1" />
<ellipse cx="135.5" cy="971.0" rx="18.4" ry="34.3" fill="url(#wDish)" stroke="#2b2b2b" stroke-width="0.9" />
<ellipse cx="139.0" cy="971.0" rx="12.9" ry="27.4" fill="#ffffff" stroke="#2b2b2b" stroke-width="0.85" />
</g>
<path d="M103.5,961 L128,946.5 A17,25 13 0 1 133,994.5 L107.5,981.5 Z" fill="url(#wBody)" stroke="#2b2b2b" stroke-width="0.85" stroke-linejoin="round" stroke-linecap="round" />
<g transform="rotate(13.5 106.3 970.5)">
<ellipse cx="106.3" cy="970.5" rx="6.5" ry="12.5" fill="#e9e9e9" stroke="#2b2b2b" stroke-width="0.8" />
</g>
<path d="M120,951 A14,22 13 0 1 124,990" fill="none" stroke="#2b2b2b" stroke-width="0.7" stroke-linejoin="round" stroke-linecap="round" />
<path d="M-2,917.7 L104.5,963.5 L100.6,983.4 L40.8,962.6 L-2,973 Z" fill="url(#wire4)" stroke="none" stroke-width="0" stroke-linejoin="round" stroke-linecap="round" />
<polyline points="40.8,962.6 100.6,983.4 102.5,978.6" fill="none" stroke="#2b2b2b" stroke-width="0.9" stroke-linecap="round" stroke-linejoin="round" />
<path d="M-2,942.5 L10.4,940.8 L55,946.4 Q62.5,950 61.7,953.5 Q60.5,958.5 52,960 L-2,973 Z" fill="url(#wire2)" stroke="none" stroke-width="0" stroke-linejoin="round" stroke-linecap="round" />
<path d="M-2,942.5 L10.4,940.8 L55,946.4 Q62.5,950 61.7,953.5 Q60.5,958.5 52,960 L40.8,962.6" fill="none" stroke="#8e8e8e" stroke-width="0.7" stroke-linejoin="round" stroke-linecap="round" />
<path d="M-2,892.6 L132.9,940.7 L135.7,944.5 L125.3,961.6 L-2,917.7 Z" fill="#ffffff" stroke="none" stroke-width="0" stroke-linejoin="round" stroke-linecap="round" />
<polyline points="132.9,940.7 135.7,944.5 125.3,961.6 -2.0,917.7" fill="none" stroke="#2b2b2b" stroke-width="0.9" stroke-linecap="round" stroke-linejoin="round" />
<polyline points="-2.0,892.6 132.9,940.7" fill="none" stroke="#1c1c1c" stroke-width="1.5" stroke-linecap="round" stroke-linejoin="round" />
<g transform="translate(593.3 314.8) scale(1.000)">
<path d="M-21.6,150 L-21.6,171 A21.6,5.2 0 0 0 21.6,171 L21.6,150 Z" fill="url(#stubG)" stroke="#333" stroke-width="0.9" stroke-linejoin="round" stroke-linecap="round" />
<polyline points="-15.5,152.0 -15.5,174.7" fill="none" stroke="#333" stroke-width="0.9" stroke-linecap="round" stroke-linejoin="round" />
<path d="M-32.6,126 L-32.6,155.8 A32.6,7.0 0 0 0 32.6,155.8 L32.6,126 Z" fill="url(#redB)" stroke="#4c0f0f" stroke-width="1.25" stroke-linejoin="round" stroke-linecap="round" />
<path d="M-32.6,136.5 A32.6,7.2 0 0 0 32.6,136.5" fill="none" stroke="#4c0f0f" stroke-width="0.9" stroke-linejoin="round" stroke-linecap="round" />
<path d="M-38.3,117.9 A38.3,15 0 0 1 38.3,117.9 Q40.4,120.0 39.9,123.0 Q39.5,126.3 37.2,127.4 A37.2,6.2 0 0 1 -37.2,127.4 Q-39.5,126.3 -39.9,123.0 Q-40.4,120.0 -38.3,117.9 Z" fill="url(#redRim)" stroke="#4c0f0f" stroke-width="1.25" stroke-linejoin="round" stroke-linecap="round" />
<path d="M-38.3,117.9 A38.3,15 0 0 1 38.3,117.9 L39.5,121.5 A39.5,6.5 0 0 1 -39.5,121.5 Z" fill="url(#redTop)" stroke="none" stroke-width="0" stroke-linejoin="round" stroke-linecap="round" />
<path d="M-36,115.1 A36,8.7 0 0 0 36,115.1" fill="none" stroke="#4c0f0f" stroke-width="1.0" stroke-linejoin="round" stroke-linecap="round" />
<path d="M-39.5,121.5 A39.5,6.5 0 0 0 39.5,121.5" fill="none" stroke="#4c0f0f" stroke-width="1.1" stroke-linejoin="round" stroke-linecap="round" />
<path d="M-39.2,124.4 A39.2,6.9 0 0 0 39.2,124.4" fill="none" stroke="#4c0f0f" stroke-width="1.0" stroke-linejoin="round" stroke-linecap="round" />
<path d="M-18.4,97.7 L-18.4,116.3 A18.4,4.2 0 0 0 18.4,116.3 L18.4,97.7 Z" fill="url(#redC)" stroke="#4c0f0f" stroke-width="1.0" stroke-linejoin="round" stroke-linecap="round" />
<path d="M-38.3,89.1 A38.3,15 0 0 1 38.3,89.1 Q40.4,91.2 39.9,94.2 Q39.5,97.5 37.2,98.6 A37.2,6.2 0 0 1 -37.2,98.6 Q-39.5,97.5 -39.9,94.2 Q-40.4,91.2 -38.3,89.1 Z" fill="url(#redRim)" stroke="#4c0f0f" stroke-width="1.25" stroke-linejoin="round" stroke-linecap="round" />
<path d="M-38.3,89.1 A38.3,15 0 0 1 38.3,89.1 L39.5,92.7 A39.5,6.5 0 0 1 -39.5,92.7 Z" fill="url(#redTop)" stroke="none" stroke-width="0" stroke-linejoin="round" stroke-linecap="round" />
<path d="M-36,86.3 A36,8.7 0 0 0 36,86.3" fill="none" stroke="#4c0f0f" stroke-width="1.0" stroke-linejoin="round" stroke-linecap="round" />
<path d="M-39.5,92.7 A39.5,6.5 0 0 0 39.5,92.7" fill="none" stroke="#4c0f0f" stroke-width="1.1" stroke-linejoin="round" stroke-linecap="round" />
<path d="M-39.2,95.6 A39.2,6.9 0 0 0 39.2,95.6" fill="none" stroke="#4c0f0f" stroke-width="1.0" stroke-linejoin="round" stroke-linecap="round" />
<path d="M-18.4,68.9 L-18.4,87.5 A18.4,4.2 0 0 0 18.4,87.5 L18.4,68.9 Z" fill="url(#redC)" stroke="#4c0f0f" stroke-width="1.0" stroke-linejoin="round" stroke-linecap="round" />
<path d="M-38.3,60.3 A38.3,15 0 0 1 38.3,60.3 Q40.4,62.4 39.9,65.4 Q39.5,68.7 37.2,69.8 A37.2,6.2 0 0 1 -37.2,69.8 Q-39.5,68.7 -39.9,65.4 Q-40.4,62.4 -38.3,60.3 Z" fill="url(#redRim)" stroke="#4c0f0f" stroke-width="1.25" stroke-linejoin="round" stroke-linecap="round" />
<path d="M-38.3,60.3 A38.3,15 0 0 1 38.3,60.3 L39.5,63.9 A39.5,6.5 0 0 1 -39.5,63.9 Z" fill="url(#redTop)" stroke="none" stroke-width="0" stroke-linejoin="round" stroke-linecap="round" />
<path d="M-36,57.5 A36,8.7 0 0 0 36,57.5" fill="none" stroke="#4c0f0f" stroke-width="1.0" stroke-linejoin="round" stroke-linecap="round" />
<path d="M-39.5,63.9 A39.5,6.5 0 0 0 39.5,63.9" fill="none" stroke="#4c0f0f" stroke-width="1.1" stroke-linejoin="round" stroke-linecap="round" />
<path d="M-39.2,66.8 A39.2,6.9 0 0 0 39.2,66.8" fill="none" stroke="#4c0f0f" stroke-width="1.0" stroke-linejoin="round" stroke-linecap="round" />
<path d="M-19.5,30 L-25.6,55 A25.6,6.2 0 0 0 25.6,55 L19.5,30 Z" fill="url(#redCone)" stroke="#4c0f0f" stroke-width="1.25" stroke-linejoin="round" stroke-linecap="round" />
<path d="M-23.8,0 L-23.8,28 A23.8,5.2 0 0 0 23.8,28 L23.8,0 Z" fill="url(#redB)" stroke="#4c0f0f" stroke-width="1.25" stroke-linejoin="round" stroke-linecap="round" />
<ellipse cx="0.0" cy="0.0" rx="23.8" ry="5.4" fill="url(#redTop)" stroke="#4c0f0f" stroke-width="1.25" />
<path d="M-18.8,3.6 L-18.8,31.6 L-20.5,57.6 Q-26,59 -30.6,62 L-30.6,71.5 M-15.2,77.8 L-15.2,89.4 Q-24,90.5 -29.9,93 L-29.9,100.5 M-15.2,106.7 L-15.2,118.3 Q-24,119.4 -29.9,121.8 L-29.9,129.3 M-22.5,136.5 L-25.5,139.8 L-25.5,158.6" fill="none" stroke="#4c0f0f" stroke-width="1.1" stroke-linejoin="round" stroke-linecap="round" />
<path d="M-18.8,3.6 L-5,1.6" fill="none" stroke="#4c0f0f" stroke-width="0.9" stroke-linejoin="round" stroke-linecap="round" />
</g>
<g transform="translate(489.4 340.2) scale(1.000)">
<path d="M-21.6,150 L-21.6,171 A21.6,5.2 0 0 0 21.6,171 L21.6,150 Z" fill="url(#stubG)" stroke="#333" stroke-width="0.9" stroke-linejoin="round" stroke-linecap="round" />
<polyline points="-15.5,152.0 -15.5,174.7" fill="none" stroke="#333" stroke-width="0.9" stroke-linecap="round" stroke-linejoin="round" />
<path d="M-32.6,126 L-32.6,155.8 A32.6,7.0 0 0 0 32.6,155.8 L32.6,126 Z" fill="url(#redB)" stroke="#4c0f0f" stroke-width="1.25" stroke-linejoin="round" stroke-linecap="round" />
<path d="M-32.6,136.5 A32.6,7.2 0 0 0 32.6,136.5" fill="none" stroke="#4c0f0f" stroke-width="0.9" stroke-linejoin="round" stroke-linecap="round" />
<path d="M-38.3,117.9 A38.3,15 0 0 1 38.3,117.9 Q40.4,120.0 39.9,123.0 Q39.5,126.3 37.2,127.4 A37.2,6.2 0 0 1 -37.2,127.4 Q-39.5,126.3 -39.9,123.0 Q-40.4,120.0 -38.3,117.9 Z" fill="url(#redRim)" stroke="#4c0f0f" stroke-width="1.25" stroke-linejoin="round" stroke-linecap="round" />
<path d="M-38.3,117.9 A38.3,15 0 0 1 38.3,117.9 L39.5,121.5 A39.5,6.5 0 0 1 -39.5,121.5 Z" fill="url(#redTop)" stroke="none" stroke-width="0" stroke-linejoin="round" stroke-linecap="round" />
<path d="M-36,115.1 A36,8.7 0 0 0 36,115.1" fill="none" stroke="#4c0f0f" stroke-width="1.0" stroke-linejoin="round" stroke-linecap="round" />
<path d="M-39.5,121.5 A39.5,6.5 0 0 0 39.5,121.5" fill="none" stroke="#4c0f0f" stroke-width="1.1" stroke-linejoin="round" stroke-linecap="round" />
<path d="M-39.2,124.4 A39.2,6.9 0 0 0 39.2,124.4" fill="none" stroke="#4c0f0f" stroke-width="1.0" stroke-linejoin="round" stroke-linecap="round" />
<path d="M-18.4,97.7 L-18.4,116.3 A18.4,4.2 0 0 0 18.4,116.3 L18.4,97.7 Z" fill="url(#redC)" stroke="#4c0f0f" stroke-width="1.0" stroke-linejoin="round" stroke-linecap="round" />
<path d="M-38.3,89.1 A38.3,15 0 0 1 38.3,89.1 Q40.4,91.2 39.9,94.2 Q39.5,97.5 37.2,98.6 A37.2,6.2 0 0 1 -37.2,98.6 Q-39.5,97.5 -39.9,94.2 Q-40.4,91.2 -38.3,89.1 Z" fill="url(#redRim)" stroke="#4c0f0f" stroke-width="1.25" stroke-linejoin="round" stroke-linecap="round" />
<path d="M-38.3,89.1 A38.3,15 0 0 1 38.3,89.1 L39.5,92.7 A39.5,6.5 0 0 1 -39.5,92.7 Z" fill="url(#redTop)" stroke="none" stroke-width="0" stroke-linejoin="round" stroke-linecap="round" />
<path d="M-36,86.3 A36,8.7 0 0 0 36,86.3" fill="none" stroke="#4c0f0f" stroke-width="1.0" stroke-linejoin="round" stroke-linecap="round" />
<path d="M-39.5,92.7 A39.5,6.5 0 0 0 39.5,92.7" fill="none" stroke="#4c0f0f" stroke-width="1.1" stroke-linejoin="round" stroke-linecap="round" />
<path d="M-39.2,95.6 A39.2,6.9 0 0 0 39.2,95.6" fill="none" stroke="#4c0f0f" stroke-width="1.0" stroke-linejoin="round" stroke-linecap="round" />
<path d="M-18.4,68.9 L-18.4,87.5 A18.4,4.2 0 0 0 18.4,87.5 L18.4,68.9 Z" fill="url(#redC)" stroke="#4c0f0f" stroke-width="1.0" stroke-linejoin="round" stroke-linecap="round" />
<path d="M-38.3,60.3 A38.3,15 0 0 1 38.3,60.3 Q40.4,62.4 39.9,65.4 Q39.5,68.7 37.2,69.8 A37.2,6.2 0 0 1 -37.2,69.8 Q-39.5,68.7 -39.9,65.4 Q-40.4,62.4 -38.3,60.3 Z" fill="url(#redRim)" stroke="#4c0f0f" stroke-width="1.25" stroke-linejoin="round" stroke-linecap="round" />
<path d="M-38.3,60.3 A38.3,15 0 0 1 38.3,60.3 L39.5,63.9 A39.5,6.5 0 0 1 -39.5,63.9 Z" fill="url(#redTop)" stroke="none" stroke-width="0" stroke-linejoin="round" stroke-linecap="round" />
<path d="M-36,57.5 A36,8.7 0 0 0 36,57.5" fill="none" stroke="#4c0f0f" stroke-width="1.0" stroke-linejoin="round" stroke-linecap="round" />
<path d="M-39.5,63.9 A39.5,6.5 0 0 0 39.5,63.9" fill="none" stroke="#4c0f0f" stroke-width="1.1" stroke-linejoin="round" stroke-linecap="round" />
<path d="M-39.2,66.8 A39.2,6.9 0 0 0 39.2,66.8" fill="none" stroke="#4c0f0f" stroke-width="1.0" stroke-linejoin="round" stroke-linecap="round" />
<path d="M-19.5,30 L-25.6,55 A25.6,6.2 0 0 0 25.6,55 L19.5,30 Z" fill="url(#redCone)" stroke="#4c0f0f" stroke-width="1.25" stroke-linejoin="round" stroke-linecap="round" />
<path d="M-23.8,0 L-23.8,28 A23.8,5.2 0 0 0 23.8,28 L23.8,0 Z" fill="url(#redB)" stroke="#4c0f0f" stroke-width="1.25" stroke-linejoin="round" stroke-linecap="round" />
<ellipse cx="0.0" cy="0.0" rx="23.8" ry="5.4" fill="url(#redTop)" stroke="#4c0f0f" stroke-width="1.25" />
<path d="M-18.8,3.6 L-18.8,31.6 L-20.5,57.6 Q-26,59 -30.6,62 L-30.6,71.5 M-15.2,77.8 L-15.2,89.4 Q-24,90.5 -29.9,93 L-29.9,100.5 M-15.2,106.7 L-15.2,118.3 Q-24,119.4 -29.9,121.8 L-29.9,129.3 M-22.5,136.5 L-25.5,139.8 L-25.5,158.6" fill="none" stroke="#4c0f0f" stroke-width="1.1" stroke-linejoin="round" stroke-linecap="round" />
<path d="M-18.8,3.6 L-5,1.6" fill="none" stroke="#4c0f0f" stroke-width="0.9" stroke-linejoin="round" stroke-linecap="round" />
</g>
<ellipse cx="492.0" cy="341.1" rx="11.6" ry="3.4" fill="#2a1010" stroke="none" stroke-width="0" />
<ellipse cx="593.7" cy="315.7" rx="10.2" ry="3.2" fill="#2a1010" stroke="none" stroke-width="0" />
<path d="M482.0,341.4 C484.9,310.2 503.5,288.5 533.5,272.5 L533.5,299.5 C515.5,305.5 504.4,318.2 502.0,340.6 Q492.0,345.2 482.0,341.4 Z" fill="#060606" stroke="#060606" stroke-width="0.8" stroke-linejoin="round" stroke-linecap="round" />
<path d="M483.8,341.6 C486.4,311.2 504.5,290.0 532.5,274.4" fill="none" stroke="#b8b8b8" stroke-width="0.8" stroke-linejoin="round" stroke-linecap="round" />
<path d="M566.5,265.5 C583.5,267.7 601.7,282.8 601.9,314.8 Q593.7,319.2 585.1,316.0 C584.1,301.3 578.5,291.5 566.5,288.5 Z" fill="#060606" stroke="#060606" stroke-width="0.8" stroke-linejoin="round" stroke-linecap="round" />
<path d="M586.7,315.8 C585.7,301.8 580.5,293.0 574.5,292.0" fill="none" stroke="#b8b8b8" stroke-width="0.7" stroke-linejoin="round" stroke-linecap="round" />
<g transform="translate(547.5 280.0)">
<path d="M-22.5,-6.3 L-22,-17.5 Q-21.5,-19.8 -19.5,-20.2 L-12.3,-21.8 L8.1,-26.9 Q11.5,-27.2 14.2,-25.9 Q18.5,-24 19.6,-20.6 L20.9,-14.5 L20.9,15.2 Q20.4,17.6 17.3,18.5 L-6.2,23.6 Q-9.5,23.8 -12.3,22.5 L-18.5,20 Q-20.8,18 -21.5,13.1 Z" fill="#060606" stroke="#060606" stroke-width="0.8" stroke-linejoin="round" stroke-linecap="round" />
<path d="M-13.3,-21.4 L-13.3,21.6" fill="none" stroke="#b8b8b8" stroke-width="0.8" stroke-linejoin="round" stroke-linecap="round" />
<path d="M-12.3,-18.6 Q-5.6,-17.5 -4.1,-9.3 L-2.8,20.0 Q-3.0,22.8 -6.2,23.3" fill="none" stroke="#b8b8b8" stroke-width="0.8" stroke-linejoin="round" stroke-linecap="round" />
<path d="M-4.1,-6.3 L20.7,-11.9 M-2.8,15.7 L19.4,10.6 M20.7,-14 L20.7,14.8" fill="none" stroke="#b8b8b8" stroke-width="0.7" stroke-linejoin="round" stroke-linecap="round" />
<path d="M-13.3,-6.3 Q-6.2,-1 -6.4,6.5 Q-6.8,12.5 -12.6,14.2" fill="none" stroke="#b8b8b8" stroke-width="0.7" stroke-linejoin="round" stroke-linecap="round" />
<path d="M-12.3,-21.8 L8.1,-26.9 M-8,-20.3 L10,-24.8 M-4.5,-18.3 L13,-22.6" fill="none" stroke="#6a6a6a" stroke-width="0.6" stroke-linejoin="round" stroke-linecap="round" />
</g>
<g transform="translate(869.5 245.8) scale(0.992)">
<path d="M-21.6,150 L-21.6,171 A21.6,5.2 0 0 0 21.6,171 L21.6,150 Z" fill="url(#stubG)" stroke="#333" stroke-width="0.9" stroke-linejoin="round" stroke-linecap="round" />
<polyline points="-15.5,152.0 -15.5,174.7" fill="none" stroke="#333" stroke-width="0.9" stroke-linecap="round" stroke-linejoin="round" />
<path d="M-32.6,126 L-32.6,155.8 A32.6,7.0 0 0 0 32.6,155.8 L32.6,126 Z" fill="url(#redB)" stroke="#4c0f0f" stroke-width="1.25" stroke-linejoin="round" stroke-linecap="round" />
<path d="M-32.6,136.5 A32.6,7.2 0 0 0 32.6,136.5" fill="none" stroke="#4c0f0f" stroke-width="0.9" stroke-linejoin="round" stroke-linecap="round" />
<path d="M-38.3,117.9 A38.3,15 0 0 1 38.3,117.9 Q40.4,120.0 39.9,123.0 Q39.5,126.3 37.2,127.4 A37.2,6.2 0 0 1 -37.2,127.4 Q-39.5,126.3 -39.9,123.0 Q-40.4,120.0 -38.3,117.9 Z" fill="url(#redRim)" stroke="#4c0f0f" stroke-width="1.25" stroke-linejoin="round" stroke-linecap="round" />
<path d="M-38.3,117.9 A38.3,15 0 0 1 38.3,117.9 L39.5,121.5 A39.5,6.5 0 0 1 -39.5,121.5 Z" fill="url(#redTop)" stroke="none" stroke-width="0" stroke-linejoin="round" stroke-linecap="round" />
<path d="M-36,115.1 A36,8.7 0 0 0 36,115.1" fill="none" stroke="#4c0f0f" stroke-width="1.0" stroke-linejoin="round" stroke-linecap="round" />
<path d="M-39.5,121.5 A39.5,6.5 0 0 0 39.5,121.5" fill="none" stroke="#4c0f0f" stroke-width="1.1" stroke-linejoin="round" stroke-linecap="round" />
<path d="M-39.2,124.4 A39.2,6.9 0 0 0 39.2,124.4" fill="none" stroke="#4c0f0f" stroke-width="1.0" stroke-linejoin="round" stroke-linecap="round" />
<path d="M-18.4,97.7 L-18.4,116.3 A18.4,4.2 0 0 0 18.4,116.3 L18.4,97.7 Z" fill="url(#redC)" stroke="#4c0f0f" stroke-width="1.0" stroke-linejoin="round" stroke-linecap="round" />
<path d="M-38.3,89.1 A38.3,15 0 0 1 38.3,89.1 Q40.4,91.2 39.9,94.2 Q39.5,97.5 37.2,98.6 A37.2,6.2 0 0 1 -37.2,98.6 Q-39.5,97.5 -39.9,94.2 Q-40.4,91.2 -38.3,89.1 Z" fill="url(#redRim)" stroke="#4c0f0f" stroke-width="1.25" stroke-linejoin="round" stroke-linecap="round" />
<path d="M-38.3,89.1 A38.3,15 0 0 1 38.3,89.1 L39.5,92.7 A39.5,6.5 0 0 1 -39.5,92.7 Z" fill="url(#redTop)" stroke="none" stroke-width="0" stroke-linejoin="round" stroke-linecap="round" />
<path d="M-36,86.3 A36,8.7 0 0 0 36,86.3" fill="none" stroke="#4c0f0f" stroke-width="1.0" stroke-linejoin="round" stroke-linecap="round" />
<path d="M-39.5,92.7 A39.5,6.5 0 0 0 39.5,92.7" fill="none" stroke="#4c0f0f" stroke-width="1.1" stroke-linejoin="round" stroke-linecap="round" />
<path d="M-39.2,95.6 A39.2,6.9 0 0 0 39.2,95.6" fill="none" stroke="#4c0f0f" stroke-width="1.0" stroke-linejoin="round" stroke-linecap="round" />
<path d="M-18.4,68.9 L-18.4,87.5 A18.4,4.2 0 0 0 18.4,87.5 L18.4,68.9 Z" fill="url(#redC)" stroke="#4c0f0f" stroke-width="1.0" stroke-linejoin="round" stroke-linecap="round" />
<path d="M-38.3,60.3 A38.3,15 0 0 1 38.3,60.3 Q40.4,62.4 39.9,65.4 Q39.5,68.7 37.2,69.8 A37.2,6.2 0 0 1 -37.2,69.8 Q-39.5,68.7 -39.9,65.4 Q-40.4,62.4 -38.3,60.3 Z" fill="url(#redRim)" stroke="#4c0f0f" stroke-width="1.25" stroke-linejoin="round" stroke-linecap="round" />
<path d="M-38.3,60.3 A38.3,15 0 0 1 38.3,60.3 L39.5,63.9 A39.5,6.5 0 0 1 -39.5,63.9 Z" fill="url(#redTop)" stroke="none" stroke-width="0" stroke-linejoin="round" stroke-linecap="round" />
<path d="M-36,57.5 A36,8.7 0 0 0 36,57.5" fill="none" stroke="#4c0f0f" stroke-width="1.0" stroke-linejoin="round" stroke-linecap="round" />
<path d="M-39.5,63.9 A39.5,6.5 0 0 0 39.5,63.9" fill="none" stroke="#4c0f0f" stroke-width="1.1" stroke-linejoin="round" stroke-linecap="round" />
<path d="M-39.2,66.8 A39.2,6.9 0 0 0 39.2,66.8" fill="none" stroke="#4c0f0f" stroke-width="1.0" stroke-linejoin="round" stroke-linecap="round" />
<path d="M-19.5,30 L-25.6,55 A25.6,6.2 0 0 0 25.6,55 L19.5,30 Z" fill="url(#redCone)" stroke="#4c0f0f" stroke-width="1.25" stroke-linejoin="round" stroke-linecap="round" />
<path d="M-23.8,0 L-23.8,28 A23.8,5.2 0 0 0 23.8,28 L23.8,0 Z" fill="url(#redB)" stroke="#4c0f0f" stroke-width="1.25" stroke-linejoin="round" stroke-linecap="round" />
<ellipse cx="0.0" cy="0.0" rx="23.8" ry="5.4" fill="url(#redTop)" stroke="#4c0f0f" stroke-width="1.25" />
<path d="M-18.8,3.6 L-18.8,31.6 L-20.5,57.6 Q-26,59 -30.6,62 L-30.6,71.5 M-15.2,77.8 L-15.2,89.4 Q-24,90.5 -29.9,93 L-29.9,100.5 M-15.2,106.7 L-15.2,118.3 Q-24,119.4 -29.9,121.8 L-29.9,129.3 M-22.5,136.5 L-25.5,139.8 L-25.5,158.6" fill="none" stroke="#4c0f0f" stroke-width="1.1" stroke-linejoin="round" stroke-linecap="round" />
<path d="M-18.8,3.6 L-5,1.6" fill="none" stroke="#4c0f0f" stroke-width="0.9" stroke-linejoin="round" stroke-linecap="round" />
</g>
<g transform="translate(766.0 271.2) scale(0.992)">
<path d="M-21.6,150 L-21.6,171 A21.6,5.2 0 0 0 21.6,171 L21.6,150 Z" fill="url(#stubG)" stroke="#333" stroke-width="0.9" stroke-linejoin="round" stroke-linecap="round" />
<polyline points="-15.5,152.0 -15.5,174.7" fill="none" stroke="#333" stroke-width="0.9" stroke-linecap="round" stroke-linejoin="round" />
<path d="M-32.6,126 L-32.6,155.8 A32.6,7.0 0 0 0 32.6,155.8 L32.6,126 Z" fill="url(#redB)" stroke="#4c0f0f" stroke-width="1.25" stroke-linejoin="round" stroke-linecap="round" />
<path d="M-32.6,136.5 A32.6,7.2 0 0 0 32.6,136.5" fill="none" stroke="#4c0f0f" stroke-width="0.9" stroke-linejoin="round" stroke-linecap="round" />
<path d="M-38.3,117.9 A38.3,15 0 0 1 38.3,117.9 Q40.4,120.0 39.9,123.0 Q39.5,126.3 37.2,127.4 A37.2,6.2 0 0 1 -37.2,127.4 Q-39.5,126.3 -39.9,123.0 Q-40.4,120.0 -38.3,117.9 Z" fill="url(#redRim)" stroke="#4c0f0f" stroke-width="1.25" stroke-linejoin="round" stroke-linecap="round" />
<path d="M-38.3,117.9 A38.3,15 0 0 1 38.3,117.9 L39.5,121.5 A39.5,6.5 0 0 1 -39.5,121.5 Z" fill="url(#redTop)" stroke="none" stroke-width="0" stroke-linejoin="round" stroke-linecap="round" />
<path d="M-36,115.1 A36,8.7 0 0 0 36,115.1" fill="none" stroke="#4c0f0f" stroke-width="1.0" stroke-linejoin="round" stroke-linecap="round" />
<path d="M-39.5,121.5 A39.5,6.5 0 0 0 39.5,121.5" fill="none" stroke="#4c0f0f" stroke-width="1.1" stroke-linejoin="round" stroke-linecap="round" />
<path d="M-39.2,124.4 A39.2,6.9 0 0 0 39.2,124.4" fill="none" stroke="#4c0f0f" stroke-width="1.0" stroke-linejoin="round" stroke-linecap="round" />
<path d="M-18.4,97.7 L-18.4,116.3 A18.4,4.2 0 0 0 18.4,116.3 L18.4,97.7 Z" fill="url(#redC)" stroke="#4c0f0f" stroke-width="1.0" stroke-linejoin="round" stroke-linecap="round" />
<path d="M-38.3,89.1 A38.3,15 0 0 1 38.3,89.1 Q40.4,91.2 39.9,94.2 Q39.5,97.5 37.2,98.6 A37.2,6.2 0 0 1 -37.2,98.6 Q-39.5,97.5 -39.9,94.2 Q-40.4,91.2 -38.3,89.1 Z" fill="url(#redRim)" stroke="#4c0f0f" stroke-width="1.25" stroke-linejoin="round" stroke-linecap="round" />
<path d="M-38.3,89.1 A38.3,15 0 0 1 38.3,89.1 L39.5,92.7 A39.5,6.5 0 0 1 -39.5,92.7 Z" fill="url(#redTop)" stroke="none" stroke-width="0" stroke-linejoin="round" stroke-linecap="round" />
<path d="M-36,86.3 A36,8.7 0 0 0 36,86.3" fill="none" stroke="#4c0f0f" stroke-width="1.0" stroke-linejoin="round" stroke-linecap="round" />
<path d="M-39.5,92.7 A39.5,6.5 0 0 0 39.5,92.7" fill="none" stroke="#4c0f0f" stroke-width="1.1" stroke-linejoin="round" stroke-linecap="round" />
<path d="M-39.2,95.6 A39.2,6.9 0 0 0 39.2,95.6" fill="none" stroke="#4c0f0f" stroke-width="1.0" stroke-linejoin="round" stroke-linecap="round" />
<path d="M-18.4,68.9 L-18.4,87.5 A18.4,4.2 0 0 0 18.4,87.5 L18.4,68.9 Z" fill="url(#redC)" stroke="#4c0f0f" stroke-width="1.0" stroke-linejoin="round" stroke-linecap="round" />
<path d="M-38.3,60.3 A38.3,15 0 0 1 38.3,60.3 Q40.4,62.4 39.9,65.4 Q39.5,68.7 37.2,69.8 A37.2,6.2 0 0 1 -37.2,69.8 Q-39.5,68.7 -39.9,65.4 Q-40.4,62.4 -38.3,60.3 Z" fill="url(#redRim)" stroke="#4c0f0f" stroke-width="1.25" stroke-linejoin="round" stroke-linecap="round" />
<path d="M-38.3,60.3 A38.3,15 0 0 1 38.3,60.3 L39.5,63.9 A39.5,6.5 0 0 1 -39.5,63.9 Z" fill="url(#redTop)" stroke="none" stroke-width="0" stroke-linejoin="round" stroke-linecap="round" />
<path d="M-36,57.5 A36,8.7 0 0 0 36,57.5" fill="none" stroke="#4c0f0f" stroke-width="1.0" stroke-linejoin="round" stroke-linecap="round" />
<path d="M-39.5,63.9 A39.5,6.5 0 0 0 39.5,63.9" fill="none" stroke="#4c0f0f" stroke-width="1.1" stroke-linejoin="round" stroke-linecap="round" />
<path d="M-39.2,66.8 A39.2,6.9 0 0 0 39.2,66.8" fill="none" stroke="#4c0f0f" stroke-width="1.0" stroke-linejoin="round" stroke-linecap="round" />
<path d="M-19.5,30 L-25.6,55 A25.6,6.2 0 0 0 25.6,55 L19.5,30 Z" fill="url(#redCone)" stroke="#4c0f0f" stroke-width="1.25" stroke-linejoin="round" stroke-linecap="round" />
<path d="M-23.8,0 L-23.8,28 A23.8,5.2 0 0 0 23.8,28 L23.8,0 Z" fill="url(#redB)" stroke="#4c0f0f" stroke-width="1.25" stroke-linejoin="round" stroke-linecap="round" />
<ellipse cx="0.0" cy="0.0" rx="23.8" ry="5.4" fill="url(#redTop)" stroke="#4c0f0f" stroke-width="1.25" />
<path d="M-18.8,3.6 L-18.8,31.6 L-20.5,57.6 Q-26,59 -30.6,62 L-30.6,71.5 M-15.2,77.8 L-15.2,89.4 Q-24,90.5 -29.9,93 L-29.9,100.5 M-15.2,106.7 L-15.2,118.3 Q-24,119.4 -29.9,121.8 L-29.9,129.3 M-22.5,136.5 L-25.5,139.8 L-25.5,158.6" fill="none" stroke="#4c0f0f" stroke-width="1.1" stroke-linejoin="round" stroke-linecap="round" />
<path d="M-18.8,3.6 L-5,1.6" fill="none" stroke="#4c0f0f" stroke-width="0.9" stroke-linejoin="round" stroke-linecap="round" />
</g>
<ellipse cx="768.6" cy="272.1" rx="11.6" ry="3.4" fill="#2a1010" stroke="none" stroke-width="0" />
<ellipse cx="869.9" cy="246.7" rx="10.2" ry="3.2" fill="#2a1010" stroke="none" stroke-width="0" />
<path d="M758.6,272.4 C761.5,241.2 768.6,220.6 798.6,204.6 L798.6,231.6 C780.6,237.6 781.0,249.2 778.6,271.6 Q768.6,276.2 758.6,272.4 Z" fill="#060606" stroke="#060606" stroke-width="0.8" stroke-linejoin="round" stroke-linecap="round" />
<path d="M760.4,272.6 C763.0,242.2 769.6,222.1 797.6,206.5" fill="none" stroke="#b8b8b8" stroke-width="0.8" stroke-linejoin="round" stroke-linecap="round" />
<path d="M831.6,201.6 C848.6,203.8 877.9,213.8 878.1,245.8 Q869.9,250.2 861.3,247.0 C860.3,232.3 843.6,223.6 831.6,220.6 Z" fill="#060606" stroke="#060606" stroke-width="0.8" stroke-linejoin="round" stroke-linecap="round" />
<path d="M862.9,246.8 C861.9,232.8 845.6,225.1 839.6,224.1" fill="none" stroke="#b8b8b8" stroke-width="0.7" stroke-linejoin="round" stroke-linecap="round" />
<g transform="translate(812.6 212.1)">
<path d="M-22.5,-6.3 L-22,-17.5 Q-21.5,-19.8 -19.5,-20.2 L-12.3,-21.8 L8.1,-26.9 Q11.5,-27.2 14.2,-25.9 Q18.5,-24 19.6,-20.6 L20.9,-14.5 L20.9,15.2 Q20.4,17.6 17.3,18.5 L-6.2,23.6 Q-9.5,23.8 -12.3,22.5 L-18.5,20 Q-20.8,18 -21.5,13.1 Z" fill="#060606" stroke="#060606" stroke-width="0.8" stroke-linejoin="round" stroke-linecap="round" />
<path d="M-13.3,-21.4 L-13.3,21.6" fill="none" stroke="#b8b8b8" stroke-width="0.8" stroke-linejoin="round" stroke-linecap="round" />
<path d="M-12.3,-18.6 Q-5.6,-17.5 -4.1,-9.3 L-2.8,20.0 Q-3.0,22.8 -6.2,23.3" fill="none" stroke="#b8b8b8" stroke-width="0.8" stroke-linejoin="round" stroke-linecap="round" />
<path d="M-4.1,-6.3 L20.7,-11.9 M-2.8,15.7 L19.4,10.6 M20.7,-14 L20.7,14.8" fill="none" stroke="#b8b8b8" stroke-width="0.7" stroke-linejoin="round" stroke-linecap="round" />
<path d="M-13.3,-6.3 Q-6.2,-1 -6.4,6.5 Q-6.8,12.5 -12.6,14.2" fill="none" stroke="#b8b8b8" stroke-width="0.7" stroke-linejoin="round" stroke-linecap="round" />
<path d="M-12.3,-21.8 L8.1,-26.9 M-8,-20.3 L10,-24.8 M-4.5,-18.3 L13,-22.6" fill="none" stroke="#6a6a6a" stroke-width="0.6" stroke-linejoin="round" stroke-linecap="round" />
</g>
<g transform="translate(1132.2 181.3) scale(0.988)">
<path d="M-21.6,150 L-21.6,171 A21.6,5.2 0 0 0 21.6,171 L21.6,150 Z" fill="url(#stubG)" stroke="#333" stroke-width="0.9" stroke-linejoin="round" stroke-linecap="round" />
<polyline points="-15.5,152.0 -15.5,174.7" fill="none" stroke="#333" stroke-width="0.9" stroke-linecap="round" stroke-linejoin="round" />
<path d="M-32.6,126 L-32.6,155.8 A32.6,7.0 0 0 0 32.6,155.8 L32.6,126 Z" fill="url(#redB)" stroke="#4c0f0f" stroke-width="1.25" stroke-linejoin="round" stroke-linecap="round" />
<path d="M-32.6,136.5 A32.6,7.2 0 0 0 32.6,136.5" fill="none" stroke="#4c0f0f" stroke-width="0.9" stroke-linejoin="round" stroke-linecap="round" />
<path d="M-38.3,117.9 A38.3,15 0 0 1 38.3,117.9 Q40.4,120.0 39.9,123.0 Q39.5,126.3 37.2,127.4 A37.2,6.2 0 0 1 -37.2,127.4 Q-39.5,126.3 -39.9,123.0 Q-40.4,120.0 -38.3,117.9 Z" fill="url(#redRim)" stroke="#4c0f0f" stroke-width="1.25" stroke-linejoin="round" stroke-linecap="round" />
<path d="M-38.3,117.9 A38.3,15 0 0 1 38.3,117.9 L39.5,121.5 A39.5,6.5 0 0 1 -39.5,121.5 Z" fill="url(#redTop)" stroke="none" stroke-width="0" stroke-linejoin="round" stroke-linecap="round" />
<path d="M-36,115.1 A36,8.7 0 0 0 36,115.1" fill="none" stroke="#4c0f0f" stroke-width="1.0" stroke-linejoin="round" stroke-linecap="round" />
<path d="M-39.5,121.5 A39.5,6.5 0 0 0 39.5,121.5" fill="none" stroke="#4c0f0f" stroke-width="1.1" stroke-linejoin="round" stroke-linecap="round" />
<path d="M-39.2,124.4 A39.2,6.9 0 0 0 39.2,124.4" fill="none" stroke="#4c0f0f" stroke-width="1.0" stroke-linejoin="round" stroke-linecap="round" />
<path d="M-18.4,97.7 L-18.4,116.3 A18.4,4.2 0 0 0 18.4,116.3 L18.4,97.7 Z" fill="url(#redC)" stroke="#4c0f0f" stroke-width="1.0" stroke-linejoin="round" stroke-linecap="round" />
<path d="M-38.3,89.1 A38.3,15 0 0 1 38.3,89.1 Q40.4,91.2 39.9,94.2 Q39.5,97.5 37.2,98.6 A37.2,6.2 0 0 1 -37.2,98.6 Q-39.5,97.5 -39.9,94.2 Q-40.4,91.2 -38.3,89.1 Z" fill="url(#redRim)" stroke="#4c0f0f" stroke-width="1.25" stroke-linejoin="round" stroke-linecap="round" />
<path d="M-38.3,89.1 A38.3,15 0 0 1 38.3,89.1 L39.5,92.7 A39.5,6.5 0 0 1 -39.5,92.7 Z" fill="url(#redTop)" stroke="none" stroke-width="0" stroke-linejoin="round" stroke-linecap="round" />
<path d="M-36,86.3 A36,8.7 0 0 0 36,86.3" fill="none" stroke="#4c0f0f" stroke-width="1.0" stroke-linejoin="round" stroke-linecap="round" />
<path d="M-39.5,92.7 A39.5,6.5 0 0 0 39.5,92.7" fill="none" stroke="#4c0f0f" stroke-width="1.1" stroke-linejoin="round" stroke-linecap="round" />
<path d="M-39.2,95.6 A39.2,6.9 0 0 0 39.2,95.6" fill="none" stroke="#4c0f0f" stroke-width="1.0" stroke-linejoin="round" stroke-linecap="round" />
<path d="M-18.4,68.9 L-18.4,87.5 A18.4,4.2 0 0 0 18.4,87.5 L18.4,68.9 Z" fill="url(#redC)" stroke="#4c0f0f" stroke-width="1.0" stroke-linejoin="round" stroke-linecap="round" />
<path d="M-38.3,60.3 A38.3,15 0 0 1 38.3,60.3 Q40.4,62.4 39.9,65.4 Q39.5,68.7 37.2,69.8 A37.2,6.2 0 0 1 -37.2,69.8 Q-39.5,68.7 -39.9,65.4 Q-40.4,62.4 -38.3,60.3 Z" fill="url(#redRim)" stroke="#4c0f0f" stroke-width="1.25" stroke-linejoin="round" stroke-linecap="round" />
<path d="M-38.3,60.3 A38.3,15 0 0 1 38.3,60.3 L39.5,63.9 A39.5,6.5 0 0 1 -39.5,63.9 Z" fill="url(#redTop)" stroke="none" stroke-width="0" stroke-linejoin="round" stroke-linecap="round" />
<path d="M-36,57.5 A36,8.7 0 0 0 36,57.5" fill="none" stroke="#4c0f0f" stroke-width="1.0" stroke-linejoin="round" stroke-linecap="round" />
<path d="M-39.5,63.9 A39.5,6.5 0 0 0 39.5,63.9" fill="none" stroke="#4c0f0f" stroke-width="1.1" stroke-linejoin="round" stroke-linecap="round" />
<path d="M-39.2,66.8 A39.2,6.9 0 0 0 39.2,66.8" fill="none" stroke="#4c0f0f" stroke-width="1.0" stroke-linejoin="round" stroke-linecap="round" />
<path d="M-19.5,30 L-25.6,55 A25.6,6.2 0 0 0 25.6,55 L19.5,30 Z" fill="url(#redCone)" stroke="#4c0f0f" stroke-width="1.25" stroke-linejoin="round" stroke-linecap="round" />
<path d="M-23.8,0 L-23.8,28 A23.8,5.2 0 0 0 23.8,28 L23.8,0 Z" fill="url(#redB)" stroke="#4c0f0f" stroke-width="1.25" stroke-linejoin="round" stroke-linecap="round" />
<ellipse cx="0.0" cy="0.0" rx="23.8" ry="5.4" fill="url(#redTop)" stroke="#4c0f0f" stroke-width="1.25" />
<path d="M-18.8,3.6 L-18.8,31.6 L-20.5,57.6 Q-26,59 -30.6,62 L-30.6,71.5 M-15.2,77.8 L-15.2,89.4 Q-24,90.5 -29.9,93 L-29.9,100.5 M-15.2,106.7 L-15.2,118.3 Q-24,119.4 -29.9,121.8 L-29.9,129.3 M-22.5,136.5 L-25.5,139.8 L-25.5,158.6" fill="none" stroke="#4c0f0f" stroke-width="1.1" stroke-linejoin="round" stroke-linecap="round" />
<path d="M-18.8,3.6 L-5,1.6" fill="none" stroke="#4c0f0f" stroke-width="0.9" stroke-linejoin="round" stroke-linecap="round" />
</g>
<g transform="translate(1028.8 206.7) scale(0.988)">
<path d="M-21.6,150 L-21.6,171 A21.6,5.2 0 0 0 21.6,171 L21.6,150 Z" fill="url(#stubG)" stroke="#333" stroke-width="0.9" stroke-linejoin="round" stroke-linecap="round" />
<polyline points="-15.5,152.0 -15.5,174.7" fill="none" stroke="#333" stroke-width="0.9" stroke-linecap="round" stroke-linejoin="round" />
<path d="M-32.6,126 L-32.6,155.8 A32.6,7.0 0 0 0 32.6,155.8 L32.6,126 Z" fill="url(#redB)" stroke="#4c0f0f" stroke-width="1.25" stroke-linejoin="round" stroke-linecap="round" />
<path d="M-32.6,136.5 A32.6,7.2 0 0 0 32.6,136.5" fill="none" stroke="#4c0f0f" stroke-width="0.9" stroke-linejoin="round" stroke-linecap="round" />
<path d="M-38.3,117.9 A38.3,15 0 0 1 38.3,117.9 Q40.4,120.0 39.9,123.0 Q39.5,126.3 37.2,127.4 A37.2,6.2 0 0 1 -37.2,127.4 Q-39.5,126.3 -39.9,123.0 Q-40.4,120.0 -38.3,117.9 Z" fill="url(#redRim)" stroke="#4c0f0f" stroke-width="1.25" stroke-linejoin="round" stroke-linecap="round" />
<path d="M-38.3,117.9 A38.3,15 0 0 1 38.3,117.9 L39.5,121.5 A39.5,6.5 0 0 1 -39.5,121.5 Z" fill="url(#redTop)" stroke="none" stroke-width="0" stroke-linejoin="round" stroke-linecap="round" />
<path d="M-36,115.1 A36,8.7 0 0 0 36,115.1" fill="none" stroke="#4c0f0f" stroke-width="1.0" stroke-linejoin="round" stroke-linecap="round" />
<path d="M-39.5,121.5 A39.5,6.5 0 0 0 39.5,121.5" fill="none" stroke="#4c0f0f" stroke-width="1.1" stroke-linejoin="round" stroke-linecap="round" />
<path d="M-39.2,124.4 A39.2,6.9 0 0 0 39.2,124.4" fill="none" stroke="#4c0f0f" stroke-width="1.0" stroke-linejoin="round" stroke-linecap="round" />
<path d="M-18.4,97.7 L-18.4,116.3 A18.4,4.2 0 0 0 18.4,116.3 L18.4,97.7 Z" fill="url(#redC)" stroke="#4c0f0f" stroke-width="1.0" stroke-linejoin="round" stroke-linecap="round" />
<path d="M-38.3,89.1 A38.3,15 0 0 1 38.3,89.1 Q40.4,91.2 39.9,94.2 Q39.5,97.5 37.2,98.6 A37.2,6.2 0 0 1 -37.2,98.6 Q-39.5,97.5 -39.9,94.2 Q-40.4,91.2 -38.3,89.1 Z" fill="url(#redRim)" stroke="#4c0f0f" stroke-width="1.25" stroke-linejoin="round" stroke-linecap="round" />
<path d="M-38.3,89.1 A38.3,15 0 0 1 38.3,89.1 L39.5,92.7 A39.5,6.5 0 0 1 -39.5,92.7 Z" fill="url(#redTop)" stroke="none" stroke-width="0" stroke-linejoin="round" stroke-linecap="round" />
<path d="M-36,86.3 A36,8.7 0 0 0 36,86.3" fill="none" stroke="#4c0f0f" stroke-width="1.0" stroke-linejoin="round" stroke-linecap="round" />
<path d="M-39.5,92.7 A39.5,6.5 0 0 0 39.5,92.7" fill="none" stroke="#4c0f0f" stroke-width="1.1" stroke-linejoin="round" stroke-linecap="round" />
<path d="M-39.2,95.6 A39.2,6.9 0 0 0 39.2,95.6" fill="none" stroke="#4c0f0f" stroke-width="1.0" stroke-linejoin="round" stroke-linecap="round" />
<path d="M-18.4,68.9 L-18.4,87.5 A18.4,4.2 0 0 0 18.4,87.5 L18.4,68.9 Z" fill="url(#redC)" stroke="#4c0f0f" stroke-width="1.0" stroke-linejoin="round" stroke-linecap="round" />
<path d="M-38.3,60.3 A38.3,15 0 0 1 38.3,60.3 Q40.4,62.4 39.9,65.4 Q39.5,68.7 37.2,69.8 A37.2,6.2 0 0 1 -37.2,69.8 Q-39.5,68.7 -39.9,65.4 Q-40.4,62.4 -38.3,60.3 Z" fill="url(#redRim)" stroke="#4c0f0f" stroke-width="1.25" stroke-linejoin="round" stroke-linecap="round" />
<path d="M-38.3,60.3 A38.3,15 0 0 1 38.3,60.3 L39.5,63.9 A39.5,6.5 0 0 1 -39.5,63.9 Z" fill="url(#redTop)" stroke="none" stroke-width="0" stroke-linejoin="round" stroke-linecap="round" />
<path d="M-36,57.5 A36,8.7 0 0 0 36,57.5" fill="none" stroke="#4c0f0f" stroke-width="1.0" stroke-linejoin="round" stroke-linecap="round" />
<path d="M-39.5,63.9 A39.5,6.5 0 0 0 39.5,63.9" fill="none" stroke="#4c0f0f" stroke-width="1.1" stroke-linejoin="round" stroke-linecap="round" />
<path d="M-39.2,66.8 A39.2,6.9 0 0 0 39.2,66.8" fill="none" stroke="#4c0f0f" stroke-width="1.0" stroke-linejoin="round" stroke-linecap="round" />
<path d="M-19.5,30 L-25.6,55 A25.6,6.2 0 0 0 25.6,55 L19.5,30 Z" fill="url(#redCone)" stroke="#4c0f0f" stroke-width="1.25" stroke-linejoin="round" stroke-linecap="round" />
<path d="M-23.8,0 L-23.8,28 A23.8,5.2 0 0 0 23.8,28 L23.8,0 Z" fill="url(#redB)" stroke="#4c0f0f" stroke-width="1.25" stroke-linejoin="round" stroke-linecap="round" />
<ellipse cx="0.0" cy="0.0" rx="23.8" ry="5.4" fill="url(#redTop)" stroke="#4c0f0f" stroke-width="1.25" />
<path d="M-18.8,3.6 L-18.8,31.6 L-20.5,57.6 Q-26,59 -30.6,62 L-30.6,71.5 M-15.2,77.8 L-15.2,89.4 Q-24,90.5 -29.9,93 L-29.9,100.5 M-15.2,106.7 L-15.2,118.3 Q-24,119.4 -29.9,121.8 L-29.9,129.3 M-22.5,136.5 L-25.5,139.8 L-25.5,158.6" fill="none" stroke="#4c0f0f" stroke-width="1.1" stroke-linejoin="round" stroke-linecap="round" />
<path d="M-18.8,3.6 L-5,1.6" fill="none" stroke="#4c0f0f" stroke-width="0.9" stroke-linejoin="round" stroke-linecap="round" />
</g>
<ellipse cx="1031.4" cy="207.6" rx="11.6" ry="3.4" fill="#2a1010" stroke="none" stroke-width="0" />
<ellipse cx="1132.6" cy="182.2" rx="10.2" ry="3.2" fill="#2a1010" stroke="none" stroke-width="0" />
<path d="M1021.4,207.9 C1024.3,176.7 1041.8,153.5 1071.8,137.5 L1071.8,164.5 C1053.8,170.5 1043.8,184.7 1041.4,207.1 Q1031.4,211.7 1021.4,207.9 Z" fill="#060606" stroke="#060606" stroke-width="0.8" stroke-linejoin="round" stroke-linecap="round" />
<path d="M1023.2,208.1 C1025.8,177.7 1042.8,155.0 1070.8,139.4" fill="none" stroke="#b8b8b8" stroke-width="0.8" stroke-linejoin="round" stroke-linecap="round" />
<path d="M1104.8,131.0 C1121.8,133.2 1140.6,149.3 1140.8,181.3 Q1132.6,185.7 1124.0,182.5 C1123.0,167.8 1116.8,156.5 1104.8,153.5 Z" fill="#060606" stroke="#060606" stroke-width="0.8" stroke-linejoin="round" stroke-linecap="round" />
<path d="M1125.6,182.3 C1124.6,168.3 1118.8,158.0 1112.8,157.0" fill="none" stroke="#b8b8b8" stroke-width="0.7" stroke-linejoin="round" stroke-linecap="round" />
<g transform="translate(1085.8 145.0)">
<path d="M-22.5,-6.3 L-22,-17.5 Q-21.5,-19.8 -19.5,-20.2 L-12.3,-21.8 L8.1,-26.9 Q11.5,-27.2 14.2,-25.9 Q18.5,-24 19.6,-20.6 L20.9,-14.5 L20.9,15.2 Q20.4,17.6 17.3,18.5 L-6.2,23.6 Q-9.5,23.8 -12.3,22.5 L-18.5,20 Q-20.8,18 -21.5,13.1 Z" fill="#060606" stroke="#060606" stroke-width="0.8" stroke-linejoin="round" stroke-linecap="round" />
<path d="M-13.3,-21.4 L-13.3,21.6" fill="none" stroke="#b8b8b8" stroke-width="0.8" stroke-linejoin="round" stroke-linecap="round" />
<path d="M-12.3,-18.6 Q-5.6,-17.5 -4.1,-9.3 L-2.8,20.0 Q-3.0,22.8 -6.2,23.3" fill="none" stroke="#b8b8b8" stroke-width="0.8" stroke-linejoin="round" stroke-linecap="round" />
<path d="M-4.1,-6.3 L20.7,-11.9 M-2.8,15.7 L19.4,10.6 M20.7,-14 L20.7,14.8" fill="none" stroke="#b8b8b8" stroke-width="0.7" stroke-linejoin="round" stroke-linecap="round" />
<path d="M-13.3,-6.3 Q-6.2,-1 -6.4,6.5 Q-6.8,12.5 -12.6,14.2" fill="none" stroke="#b8b8b8" stroke-width="0.7" stroke-linejoin="round" stroke-linecap="round" />
<path d="M-12.3,-21.8 L8.1,-26.9 M-8,-20.3 L10,-24.8 M-4.5,-18.3 L13,-22.6" fill="none" stroke="#6a6a6a" stroke-width="0.6" stroke-linejoin="round" stroke-linecap="round" />
</g>
<text x="524.6" y="901.8" textLength="206.1" lengthAdjust="spacingAndGlyphs">3x10kV</text>
<text x="746.2" y="901.8" textLength="272.0" lengthAdjust="spacingAndGlyphs">insulators</text>
<text x="1034.5" y="901.8" textLength="97.6" lengthAdjust="spacingAndGlyphs">can</text>
<text x="1152.2" y="901.8" textLength="70.6" lengthAdjust="spacingAndGlyphs">be</text>
<text x="523.8" y="986.0" textLength="256.7" lengthAdjust="spacingAndGlyphs">mounted</text>
<text x="798.3" y="986.0" textLength="74.2" lengthAdjust="spacingAndGlyphs">on</text>
<text x="890.3" y="986.0" textLength="102.3" lengthAdjust="spacingAndGlyphs">any</text>
<text x="1008.2" y="986.0" textLength="195.1" lengthAdjust="spacingAndGlyphs">D-type</text>
<text x="1220.0" y="986.0" textLength="124.1" lengthAdjust="spacingAndGlyphs">pole</text>
</svg>
</body></html>
